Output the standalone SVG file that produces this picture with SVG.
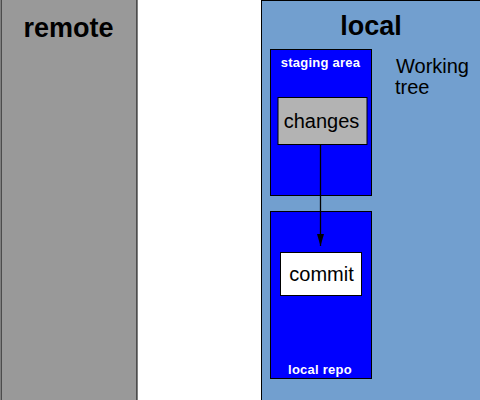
<svg xmlns="http://www.w3.org/2000/svg" width="480" height="400" viewBox="0 0 480 400">
<style>
.area{stroke:#000;stroke-width:1}
.title{font-family:"Liberation Sans",Arial,sans-serif;font-weight:bold;font-size:27px;text-anchor:middle;fill:#000}
.small{font-family:"Liberation Sans",Arial,sans-serif;font-weight:bold;font-size:13px;letter-spacing:0.25px;text-anchor:middle;fill:#fff}
.lbl{font-family:"Liberation Sans",Arial,sans-serif;font-size:20px;fill:#000}
</style>
<defs>
<marker id="arr" markerWidth="12" markerHeight="7" refX="12" refY="3.5" orient="auto" markerUnits="userSpaceOnUse" viewBox="0 0 12 7">
<path d="M0,0 L12,3.5 L0,7 z" fill="#000"/>
</marker>
</defs>
<rect width="480" height="400" fill="#fff"/>
<g id="remote">
<rect class="area" x="1" y="-1" width="136" height="402" fill="#999999"/>
<text class="title" x="68.5" y="37">remote</text>
</g>
<g id="local">
<rect class="area" x="261.5" y="0.5" width="220" height="400" fill="#729fcf"/>
<text class="title" x="371" y="35">local</text>
<text class="lbl" x="396" y="73">Working</text>
<text class="lbl" x="395" y="94">tree</text>
</g>
<g id="staging">
<rect class="area" x="270.5" y="49.5" width="101" height="146" fill="#0000ff"/>
<text class="small" x="320.5" y="67">staging area</text>
</g>
<g id="repo">
<rect class="area" x="270.5" y="211.5" width="101" height="167" fill="#0000ff"/>
<text class="small" x="320" y="374">local repo</text>
</g>
<g id="changes">
<rect class="area" x="278" y="97.5" width="89" height="47" fill="#b3b3b3"/>
<text class="lbl" x="321.5" y="128" text-anchor="middle">changes</text>
</g>
<g id="commit">
<rect class="area" x="280.5" y="252.5" width="81" height="43" fill="#ffffff"/>
<text class="lbl" x="321.5" y="280.5" text-anchor="middle">commit</text>
</g>
<g id="connectors">
<line x1="320.5" y1="145" x2="320.5" y2="246" stroke="#000" stroke-width="1.3" marker-end="url(#arr)"/>
</g>
</svg>
